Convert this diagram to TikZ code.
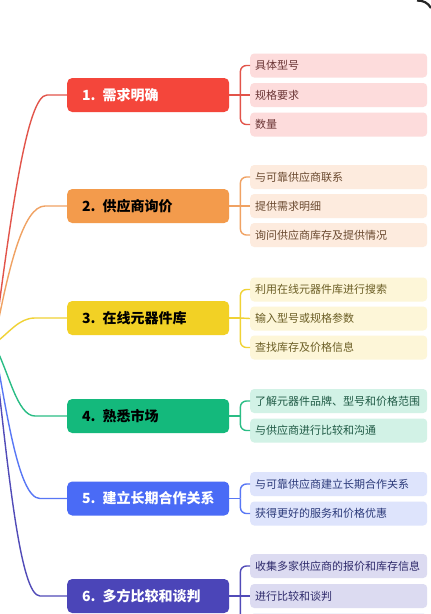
\documentclass[tikz,border=0pt]{standalone}
\usepackage{fontspec}
\setmainfont{Noto Sans CJK SC}
\usepackage{tikz}

\definecolor{redM}{HTML}{F4463B}
\definecolor{redL}{HTML}{FDDCDC}
\definecolor{redT}{HTML}{6B3535}
\definecolor{redW}{HTML}{E2544A}
\definecolor{orgM}{HTML}{F39B4C}
\definecolor{orgL}{HTML}{FDEBDE}
\definecolor{orgT}{HTML}{6B4A30}
\definecolor{orgW}{HTML}{F0A263}
\definecolor{yelM}{HTML}{F2D125}
\definecolor{yelL}{HTML}{FDF6D8}
\definecolor{yelT}{HTML}{6B5E25}
\definecolor{yelW}{HTML}{F0D235}
\definecolor{grnM}{HTML}{14B97C}
\definecolor{grnL}{HTML}{D2F2E6}
\definecolor{grnT}{HTML}{1F5A45}
\definecolor{grnW}{HTML}{2ABD85}
\definecolor{bluM}{HTML}{4A6BF6}
\definecolor{bluL}{HTML}{DEE4FC}
\definecolor{bluT}{HTML}{2C3A7A}
\definecolor{bluW}{HTML}{5877F5}
\definecolor{purM}{HTML}{4B45B8}
\definecolor{purL}{HTML}{DCDBF1}
\definecolor{purT}{HTML}{2E2A6B}
\definecolor{purW}{HTML}{514BB8}

\begin{document}
\begin{tikzpicture}[x=1pt,y=-1pt,
  topic/.style={rectangle,rounded corners=5pt,text width=144pt,inner xsep=9pt,
    minimum height=34pt,anchor=west,align=left,
    execute at begin node={\hspace*{6pt}},
    font=\fontsize{14}{16}\selectfont\bfseries},
  leaf/.style={rectangle,rounded corners=4pt,text width=167pt,inner xsep=5pt,
    minimum height=24pt,anchor=west,align=left,font=\fontsize{11}{13}\selectfont},
  link/.style={line width=1.4pt},
  fork/.style={line width=1.4pt,rounded corners=6pt}]
\useasboundingbox (0,0) rectangle (431,614);
\clip (0,0) rectangle (431,614);
\fill[white] (0,0) rectangle (431,614);

\coordinate (root) at (-6,344);

% branch 1
\node[topic,fill=redM,text=white] (m1) at (67,95) {1. 需求明确};
\node[leaf,fill=redL,text=redT] (l11) at (250,65.5) {具体型号};
\node[leaf,fill=redL,text=redT] (l12) at (250,95) {规格要求};
\node[leaf,fill=redL,text=redT] (l13) at (250,124.5) {数量};
\draw[link,redW] (root) .. controls +(17,-130) and +(-20,0) .. (47,95) -- (m1.west);
\draw[link,redW] (m1.east) -- ++(11,0) coordinate (b1);
\draw[fork,redW] (b1) |- (l11.west);
\draw[fork,redW] (b1) -- (l12.west);
\draw[fork,redW] (b1) |- (l13.west);

% branch 2
\node[topic,fill=orgM,text=black] (m2) at (67,206) {2. 供应商询价};
\node[leaf,fill=orgL,text=orgT] (l21) at (250,177) {与可靠供应商联系};
\node[leaf,fill=orgL,text=orgT] (l22) at (250,206) {提供需求明细};
\node[leaf,fill=orgL,text=orgT] (l23) at (250,235) {询问供应商库存及提供情况};
\draw[link,orgW] (root) .. controls +(14,-75) and +(-22,0) .. (45,206) -- (m2.west);
\draw[link,orgW] (m2.east) -- ++(11,0) coordinate (b2);
\draw[fork,orgW] (b2) |- (l21.west);
\draw[fork,orgW] (b2) -- (l22.west);
\draw[fork,orgW] (b2) |- (l23.west);

% branch 3
\node[topic,fill=yelM,text=black] (m3) at (67,318) {3. 在线元器件库};
\node[leaf,fill=yelL,text=yelT] (l31) at (250,289.5) {利用在线元器件库进行搜索};
\node[leaf,fill=yelL,text=yelT] (l32) at (250,318.5) {输入型号或规格参数};
\node[leaf,fill=yelL,text=yelT] (l33) at (250,347.5) {查找库存及价格信息};
\draw[link,yelW] (root) .. controls +(16,-12) and +(-16,0) .. (35,318) -- (m3.west);
\draw[link,yelW] (m3.east) -- ++(11,0) coordinate (b3);
\draw[fork,yelW] (b3) |- (l31.west);
\draw[fork,yelW] (b3) -- (l32.west);
\draw[fork,yelW] (b3) |- (l33.west);

% branch 4
\node[topic,fill=grnM,text=black] (m4) at (67,416) {4. 熟悉市场};
\node[leaf,fill=grnL,text=grnT] (l41) at (250,401) {了解元器件品牌、型号和价格范围};
\node[leaf,fill=grnL,text=grnT] (l42) at (250,430.5) {与供应商进行比较和沟通};
\draw[link,grnW] (root) .. controls +(15,28) and +(-18,0) .. (35,416) -- (m4.west);
\draw[link,grnW] (m4.east) -- ++(11,0) coordinate (b4);
\draw[fork,grnW] (b4) |- (l41.west);
\draw[fork,grnW] (b4) |- (l42.west);

% branch 5
\node[topic,fill=bluM,text=white] (m5) at (67,498.5) {5. 建立长期合作关系};
\node[leaf,fill=bluL,text=bluT] (l51) at (250,484) {与可靠供应商建立长期合作关系};
\node[leaf,fill=bluL,text=bluT] (l52) at (250,513.5) {获得更好的服务和价格优惠};
\draw[link,bluW] (root) .. controls +(12,62) and +(-22,0) .. (40,498.5) -- (m5.west);
\draw[link,bluW] (m5.east) -- ++(11,0) coordinate (b5);
\draw[fork,bluW] (b5) |- (l51.west);
\draw[fork,bluW] (b5) |- (l52.west);

% branch 6
\node[topic,fill=purM,text=white] (m6) at (67,596) {6. 多方比较和谈判};
\node[leaf,fill=purL,text=purT] (l61) at (250,566) {收集多家供应商的报价和库存信息};
\node[leaf,fill=purL,text=purT] (l62) at (250,596) {进行比较和谈判};
\node[leaf,fill=purL,text=purT] (l63) at (250,625.5) {};
\draw[link,purW] (root) .. controls +(14,125) and +(-20,0) .. (40,596) -- (m6.west);
\draw[link,purW] (m6.east) -- ++(11,0) coordinate (b6);
\draw[fork,purW] (b6) |- (l61.west);
\draw[fork,purW] (b6) -- (l62.west);
\draw[fork,purW] (b6) |- (l63.west);

% screen corner
\draw[black!85,line width=2.2pt] (417,0.5) to[out=0,in=120] (431,8);
\end{tikzpicture}
\end{document}
